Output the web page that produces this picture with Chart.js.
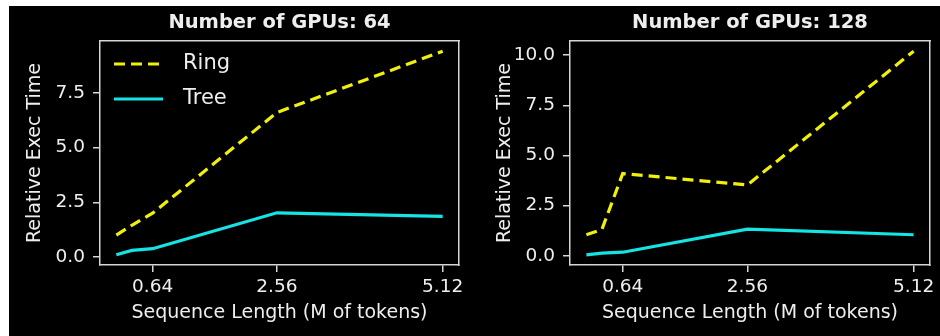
<!DOCTYPE html>
<html>
<head>
<meta charset="utf-8">
<script src="https://cdn.jsdelivr.net/npm/chart.js@4/dist/chart.umd.min.js"></script>
<style>
    body { margin: 0; background: #fff; width: 940px; height: 336px; position: relative; overflow: hidden; }
    #bg { position: absolute; left: 9px; top: 6px; width: 931px; height: 330px; background: #000; }
    .panel { position: absolute; top: 0; width: 470px; height: 336px; }
</style>
</head>
<body>
<div id="bg"></div>
<div class="panel" style="left:0"><canvas id="chart64"></canvas></div>
<div class="panel" style="left:470px"><canvas id="chart128"></canvas></div>
<script>
// Sequence lengths (M of tokens)
const seqLengths = [0.08, 0.32, 0.64, 2.56, 5.12];
const xTicks = [0.64, 2.56, 5.12];

// 64 GPUs
const ring64 = [1.0, 1.45, 2.0, 6.6, 9.4];
const tree64 = [0.1, 0.3, 0.38, 2.02, 1.86];
const yTicks64 = [0, 2.5, 5, 7.5];

// 128 GPUs
const ring128 = [1.05, 1.32, 4.1, 3.53, 10.2];
const tree128 = [0.05, 0.13, 0.18, 1.33, 1.05];
const yTicks128 = [0, 2.5, 5, 7.5, 10];

const FONT = "'DejaVu Sans', sans-serif";
const TEXT = '#eeeeee';
const FRAME = '#d6d6d6';
const RING_COLOR = '#f0f00c';
const TREE_COLOR = '#14e4e4';

// matplotlib-like 5% margins
function limits(values) {
    const lo = Math.min(...values), hi = Math.max(...values);
    const pad = (hi - lo) * 0.05;
    return { min: lo - pad, max: hi + pad };
}

// legend drawn inside the plot area, top-left
const innerLegend = {
    id: 'innerLegend',
    afterDraw(chart, args, opts) {
        if (!opts.show) return;
        const ctx = chart.ctx;
        const area = chart.chartArea;
        ctx.save();
        chart.data.datasets.forEach((ds, i) => {
            const y = area.top + 23 + i * 35;
            const x = area.left + 14;
            ctx.strokeStyle = ds.borderColor;
            ctx.lineWidth = ds.borderWidth;
            ctx.setLineDash(ds.borderDash || []);
            ctx.beginPath();
            ctx.moveTo(x, y);
            ctx.lineTo(x + 49, y);
            ctx.stroke();
            ctx.setLineDash([]);
            ctx.fillStyle = TEXT;
            ctx.font = '21px ' + FONT;
            ctx.textBaseline = 'middle';
            ctx.fillText(ds.label, x + 69, y);
        });
        ctx.restore();
    }
};

function makeChart(id, title, ring, tree, yTicks, padRight, showLegend) {
    const xl = limits(seqLengths);
    const yl = limits(ring.concat(tree));
    const tickFont = { family: FONT, size: 18.5 };
    const labelFont = { family: FONT, size: 19 };

    new Chart(document.getElementById(id), {
        type: 'line',
        data: {
            datasets: [
                {
                    label: 'Ring',
                    data: seqLengths.map((x, i) => ({ x, y: ring[i] })),
                    borderColor: RING_COLOR,
                    borderWidth: 3.2,
                    borderDash: [11, 6],
                    pointRadius: 0,
                    tension: 0
                },
                {
                    label: 'Tree',
                    data: seqLengths.map((x, i) => ({ x, y: tree[i] })),
                    borderColor: TREE_COLOR,
                    borderWidth: 3.2,
                    pointRadius: 0,
                    tension: 0
                }
            ]
        },
        options: {
            responsive: false,
            animation: false,
            layout: { padding: { top: 0, right: padRight, bottom: 0, left: 0 } },
            plugins: {
                legend: { display: false },
                tooltip: { enabled: false },
                title: {
                    display: true,
                    text: title,
                    fullSize: false,
                    color: TEXT,
                    font: { family: FONT, size: 19.5, weight: 'bold', lineHeight: '20px' },
                    padding: { top: 13, bottom: 8 }
                },
                innerLegend: { show: showLegend }
            },
            scales: {
                x: {
                    type: 'linear',
                    min: xl.min,
                    max: xl.max,
                    afterBuildTicks: s => { s.ticks = xTicks.map(v => ({ value: v })); },
                    afterFit: s => { s.height = 71; },
                    ticks: {
                        color: TEXT,
                        font: tickFont,
                        padding: 4,
                        maxRotation: 0,
                        callback: v => v.toFixed(2)
                    },
                    grid: { drawOnChartArea: false, drawTicks: true, tickLength: 7, color: FRAME, lineWidth: 1.5 },
                    border: { display: true, color: FRAME, width: 1.5 },
                    title: {
                        display: true,
                        text: 'Sequence Length (M of tokens)',
                        color: TEXT,
                        font: labelFont,
                        padding: { top: 0, bottom: 11.6 }
                    }
                },
                y: {
                    min: yl.min,
                    max: yl.max,
                    afterBuildTicks: s => { s.ticks = yTicks.map(v => ({ value: v })); },
                    afterFit: s => { s.width = 100; },
                    ticks: {
                        color: TEXT,
                        font: tickFont,
                        padding: 8,
                        callback: v => v.toFixed(1)
                    },
                    grid: { drawOnChartArea: false, drawTicks: true, tickLength: 7, color: FRAME, lineWidth: 1.5 },
                    border: { display: true, color: FRAME, width: 1.5 },
                    title: {
                        display: true,
                        text: 'Relative Exec Time',
                        color: TEXT,
                        font: labelFont,
                        padding: { top: 23.6, bottom: 0 }
                    }
                },
                xTop: {
                    type: 'linear',
                    position: 'top',
                    afterFit: s => { s.height = 0; },
                    ticks: { display: false },
                    grid: { display: false },
                    border: { display: true, color: FRAME, width: 1.5 }
                },
                yRight: {
                    type: 'linear',
                    position: 'right',
                    afterFit: s => { s.width = 0; },
                    ticks: { display: false },
                    grid: { display: false },
                    border: { display: true, color: FRAME, width: 1.5 }
                }
            }
        },
        plugins: [innerLegend]
    });
}

const c64 = document.getElementById('chart64');
c64.width = 470; c64.height = 336;
const c128 = document.getElementById('chart128');
c128.width = 470; c128.height = 336;

makeChart('chart64', 'Number of GPUs: 64', ring64, tree64, yTicks64, 11, true);
makeChart('chart128', 'Number of GPUs: 128', ring128, tree128, yTicks128, 10, false);
</script>
</body>
</html>
